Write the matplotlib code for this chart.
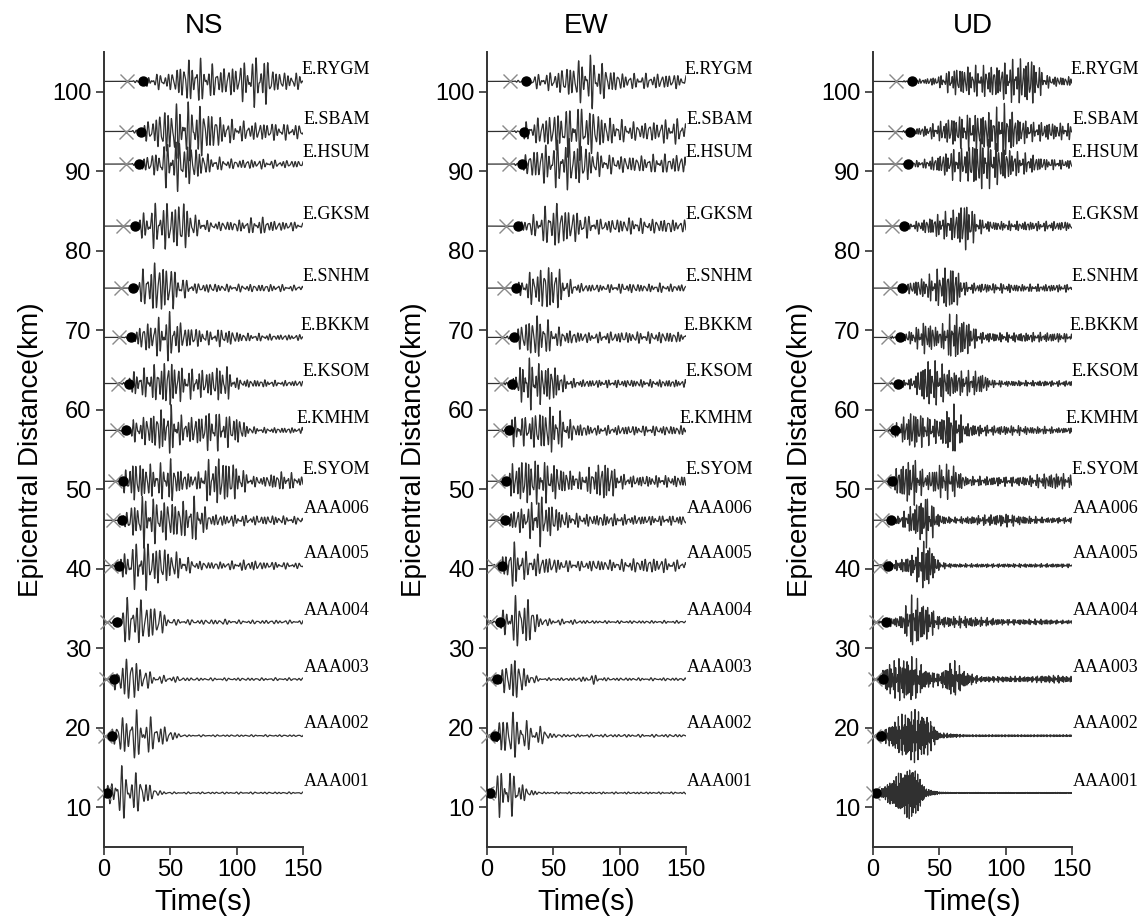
import numpy as np
import matplotlib
matplotlib.use("Agg")
import matplotlib.pyplot as plt

# -----------------------------
# DATA (read off the record section)
# -----------------------------
components = ["NS", "EW", "UD"]

stations = ["E.RYGM", "E.SBAM", "E.HSUM", "E.GKSM", "E.SNHM", "E.BKKM", "E.KSOM",
            "E.KMHM", "E.SYOM", "AAA006", "AAA005", "AAA004", "AAA003", "AAA002",
            "AAA001"]
dist_km = [101.3, 95.0, 90.9, 83.1, 75.3, 69.1, 63.3, 57.4, 51.0, 46.1, 40.4,
           33.3, 26.1, 19.0, 11.8]
p_time = [17.3, 16.6, 16.5, 14.3, 12.6, 11.6, 10.8, 9.5, 8.3, 6.5, 5.0, 2.5,
          1.5, 0.8, 0.2]
s_time = [29.4, 27.9, 26.6, 23.4, 22.0, 20.3, 18.8, 16.6, 14.6, 13.6, 11.6,
          9.5, 7.5, 5.8, 2.5]

# envelope half-amplitude (km on the plot) at t = 0, 10, ..., 150 s
env_times = [0, 10, 20, 30, 40, 50, 60, 70, 80, 90, 100, 110, 120, 130, 140, 150]

env_ns = [
    [0, 0, 0, 0.4, 0.8, 0.9, 2.2, 2.4, 1.8, 1.5, 1.8, 2.4, 2.8, 1.1, 0.9, 0.8],
    [0, 0, 0, 0.8, 1.8, 2.8, 3.0, 3.0, 2.2, 1.4, 1.1, 1.0, 1.0, 0.9, 0.8, 0.7],
    [0, 0, 0, 0.8, 1.3, 2.8, 2.6, 1.8, 0.9, 0.6, 0.5, 0.5, 0.5, 0.4, 0.4, 0.4],
    [0, 0, 0, 1.5, 2.5, 2.5, 2.8, 1.0, 0.5, 0.5, 0.6, 0.8, 0.9, 0.5, 0.5, 0.4],
    [0, 0, 0, 2.0, 3.0, 2.5, 1.0, 0.5, 0.5, 0.4, 0.4, 0.4, 0.4, 0.4, 0.3, 0.3],
    [0, 0, 0.4, 1.5, 2.0, 2.6, 1.3, 1.0, 0.7, 1.0, 0.6, 0.4, 0.4, 0.3, 0.3, 0.3],
    [0, 0, 1.2, 1.5, 2.0, 2.7, 1.6, 1.5, 1.5, 2.2, 0.6, 0.4, 0.4, 0.3, 0.3, 0.3],
    [0, 0, 1.0, 1.5, 2.2, 2.6, 1.3, 1.6, 2.2, 1.8, 1.6, 0.4, 0.3, 0.3, 0.3, 0.3],
    [0, 0, 2.2, 2.0, 1.6, 2.4, 1.0, 0.8, 2.4, 2.6, 1.8, 0.6, 0.5, 1.0, 0.9, 0.4],
    [0, 0, 1.5, 2.8, 2.2, 2.2, 2.0, 2.4, 0.7, 0.6, 0.6, 0.5, 0.5, 0.5, 0.4, 0.4],
    [0, 0.5, 2.2, 2.6, 2.2, 1.8, 1.0, 0.5, 0.4, 0.4, 0.5, 0.6, 0.4, 0.4, 0.3, 0.3],
    [0, 1.2, 2.8, 2.3, 1.8, 0.3, 0.3, 0.25, 0.25, 0.3, 0.2, 0.2, 0.2, 0.2, 0.2, 0.2],
    [0, 1.5, 2.8, 1.2, 0.4, 0.4, 0.2, 0.15, 0.15, 0.15, 0.15, 0.15, 0.15, 0.15, 0.15, 0.15],
    [0, 1.5, 2.8, 2.2, 1.5, 0.6, 0.1, 0.1, 0.1, 0.1, 0.1, 0.1, 0.1, 0.1, 0.1, 0.1],
    [0, 2.8, 2.5, 1.6, 0.3, 0.1, 0.1, 0.1, 0.1, 0.1, 0.1, 0.1, 0.1, 0.1, 0.1, 0.1],
]

env_ew = [
    [0, 0, 0, 0.5, 0.8, 1.0, 1.6, 2.3, 2.8, 1.6, 0.9, 0.8, 0.8, 0.8, 0.8, 0.7],
    [0, 0, 0, 1.0, 1.5, 2.0, 2.5, 2.8, 2.4, 1.5, 1.2, 1.0, 1.0, 1.2, 1.3, 1.3],
    [0, 0, 0, 1.2, 2.0, 2.3, 2.8, 2.4, 1.5, 1.0, 0.9, 0.9, 0.9, 1.0, 1.0, 1.0],
    [0, 0, 0, 0.8, 1.5, 2.6, 2.0, 1.5, 0.9, 0.7, 0.8, 0.9, 0.7, 0.8, 0.7, 0.6],
    [0, 0, 0, 1.5, 2.2, 2.8, 1.0, 0.5, 0.4, 0.4, 0.5, 0.5, 0.4, 0.5, 0.4, 0.4],
    [0, 0, 0.6, 2.0, 2.5, 1.2, 0.8, 0.6, 0.5, 0.6, 0.6, 0.6, 0.6, 0.6, 0.6, 0.5],
    [0, 0, 0.8, 2.8, 2.2, 2.0, 0.6, 0.4, 0.4, 0.4, 0.4, 0.4, 0.4, 0.4, 0.4, 0.4],
    [0, 0, 1.6, 1.5, 2.2, 2.6, 1.3, 0.7, 0.5, 0.5, 0.5, 0.5, 0.5, 0.5, 0.5, 0.5],
    [0, 0, 2.0, 2.6, 2.2, 2.0, 1.2, 0.9, 1.6, 2.3, 0.8, 0.6, 0.6, 0.6, 0.6, 0.6],
    [0, 0, 1.2, 1.5, 2.7, 1.6, 0.8, 0.7, 0.6, 0.7, 0.6, 0.5, 0.5, 0.5, 0.5, 0.5],
    [0, 0.8, 2.5, 1.3, 1.2, 0.8, 0.6, 0.5, 0.6, 0.6, 0.6, 0.7, 0.8, 0.8, 0.6, 0.5],
    [0, 0.8, 2.6, 2.8, 0.5, 0.3, 0.3, 0.2, 0.15, 0.15, 0.15, 0.15, 0.15, 0.15, 0.15, 0.15],
    [0, 0.8, 2.8, 0.8, 0.15, 0.15, 0.15, 0.2, 0.5, 0.15, 0.15, 0.15, 0.15, 0.15, 0.15, 0.15],
    [0, 2.0, 2.6, 1.5, 1.0, 0.2, 0.15, 0.15, 0.15, 0.15, 0.15, 0.15, 0.15, 0.15, 0.15, 0.15],
    [0, 2.6, 2.2, 0.5, 0.1, 0.1, 0.1, 0.1, 0.1, 0.1, 0.1, 0.1, 0.1, 0.1, 0.1, 0.1],
]

env_ud = [
    [0, 0, 0, 0.2, 0.3, 0.6, 1.4, 1.6, 1.6, 1.7, 2.0, 2.4, 2.6, 0.7, 0.5, 0.5],
    [0, 0, 0, 0.3, 0.6, 1.0, 1.6, 1.8, 2.0, 2.2, 2.8, 1.5, 1.0, 1.0, 0.9, 0.8],
    [0, 0, 0, 0.3, 0.5, 1.0, 1.6, 1.8, 2.8, 2.4, 1.8, 1.2, 1.0, 0.6, 0.5, 0.5],
    [0, 0, 0, 0.4, 0.8, 1.3, 1.6, 2.8, 0.8, 0.5, 0.5, 0.5, 0.5, 0.5, 0.5, 0.5],
    [0, 0, 0, 0.8, 1.2, 2.0, 2.6, 0.6, 0.5, 0.5, 0.5, 0.4, 0.4, 0.4, 0.4, 0.4],
    [0, 0, 0.3, 0.8, 1.8, 1.0, 2.6, 2.0, 0.6, 0.5, 0.5, 0.5, 0.5, 0.5, 0.5, 0.4],
    [0, 0, 0.3, 0.6, 2.5, 2.2, 1.4, 1.3, 1.3, 0.4, 0.3, 0.3, 0.3, 0.3, 0.3, 0.3],
    [0, 0, 1.0, 2.2, 1.5, 1.3, 2.8, 0.8, 0.6, 0.5, 0.5, 0.5, 0.4, 0.4, 0.3, 0.3],
    [0, 0, 1.8, 2.6, 0.8, 1.8, 1.8, 0.5, 0.5, 0.5, 0.5, 0.5, 0.6, 0.8, 0.9, 0.6],
    [0, 0, 0.5, 1.6, 2.8, 0.6, 0.3, 0.4, 0.5, 0.6, 0.7, 0.5, 0.4, 0.3, 0.3, 0.3],
    [0, 0.3, 0.6, 1.2, 2.8, 0.4, 0.2, 0.2, 0.2, 0.2, 0.2, 0.2, 0.2, 0.2, 0.2, 0.2],
    [0, 0.4, 0.6, 2.8, 2.0, 0.6, 0.6, 0.6, 0.5, 0.4, 0.3, 0.3, 0.3, 0.3, 0.2, 0.2],
    [0, 1.5, 2.2, 2.4, 1.0, 0.6, 2.0, 0.8, 0.3, 0.3, 0.3, 0.3, 0.3, 0.4, 0.4, 0.3],
    [0, 0.8, 2.0, 2.8, 2.2, 0.3, 0.2, 0.1, 0.1, 0.1, 0.1, 0.1, 0.1, 0.1, 0.1, 0.1],
    [0, 0.8, 2.0, 2.8, 0.4, 0.1, 0.05, 0.05, 0.05, 0.05, 0.05, 0.05, 0.05, 0.05, 0.05, 0.05],
]

# dominant period (s) of each trace
period_ns = [3.0, 3.0, 3.0, 3.0, 3.0, 2.8, 2.6, 2.6, 2.6, 2.8, 3.0, 3.5, 3.5, 3.6, 3.6]
period_ew = [3.0, 3.0, 3.0, 3.0, 2.8, 2.8, 2.4, 2.6, 2.4, 2.6, 3.0, 3.2, 3.2, 3.5, 3.2]
period_ud = [2.0, 2.0, 2.0, 2.0, 2.0, 1.8, 1.8, 1.8, 1.8, 1.6, 1.5, 1.5, 1.2, 0.9, 0.6]

envelopes = [env_ns, env_ew, env_ud]
periods = [period_ns, period_ew, period_ud]

# -----------------------------
# PLOT
# -----------------------------
plt.rcParams["font.family"] = ["Liberation Sans", "DejaVu Sans"]

W, H = 1145, 924
fig = plt.figure(figsize=(W / 100, H / 100), dpi=100)

panel_left_px = [104, 487, 873]
ax_w = 199 / W
ax_b = (H - 847) / H
ax_h = (847 - 52) / H

t = np.arange(0, 150.01, 0.05)
trace_col = "#303030"

for c, comp in enumerate(components):
    ax = fig.add_axes([panel_left_px[c] / W, ax_b, ax_w, ax_h])
    for i, name in enumerate(stations):
        env = np.interp(t, env_times, envelopes[c][i])
        env[t < p_time[i]] = 0.0
        early = (t >= p_time[i]) & (t < s_time[i])
        env[early] = np.minimum(env[early], 0.15)
        T = periods[c][i]
        ph = 0.7 * i + 1.9 * c
        wave = (0.6 * np.sin(2 * np.pi * t / T + ph)
                + 0.4 * np.sin(2 * np.pi * 1.37 * t / T + 2 * ph)
                + 0.25 * np.sin(2 * np.pi * 0.71 * t / T + 3 * ph))
        wave = wave / 0.95
        ax.plot(t, dist_km[i] + env * wave, color=trace_col, lw=0.9, zorder=2)
        ax.plot(p_time[i], dist_km[i], marker="x", color="#8a8a8a", ms=10,
                mew=1.0, zorder=3, clip_on=False)
        ax.plot(s_time[i], dist_km[i], marker="o", color="black", ms=6.5,
                zorder=4)
        ax.text(200.5, dist_km[i] + 1.5, name, ha="right", va="center",
                fontsize=13, family=["Liberation Serif", "DejaVu Serif"],
                clip_on=False)

    ax.set_xlim(0, 150)
    ax.set_ylim(5, 105)
    ax.set_xticks([0, 50, 100, 150])
    ax.set_yticks(range(10, 101, 10))
    for side in ["top", "right"]:
        ax.spines[side].set_visible(False)
    for side in ["left", "bottom"]:
        ax.spines[side].set_color("#333333")
        ax.spines[side].set_linewidth(1.4)
    ax.tick_params(direction="out", length=6, width=1.2, color="#333333",
                   labelsize=17, pad=3)
    ax.set_title(comp, fontsize=20, pad=14)
    ax.set_xlabel("Time(s)", fontsize=21, labelpad=5)
    ax.set_ylabel("Epicentral Distance(km)", fontsize=20, labelpad=6)

fig.savefig("out.png", dpi=100)
